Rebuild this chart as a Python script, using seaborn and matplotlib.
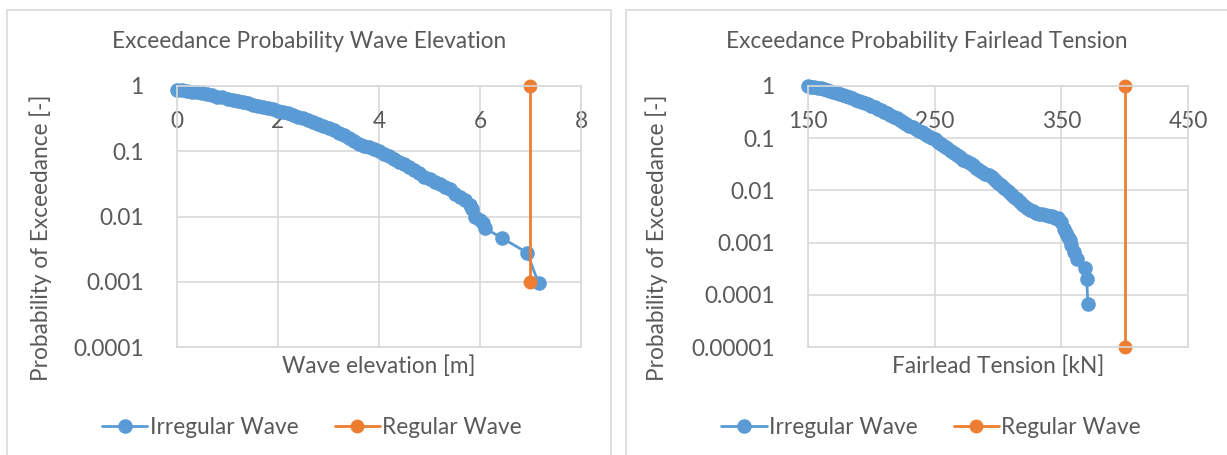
import matplotlib.pyplot as plt
import matplotlib.patches as mpatches
import pandas as pd
import seaborn as sns

# Dados (probabilidade de excedência)
wave_x = [0.0, 0.1, 0.2, 0.3, 0.4, 0.5, 0.6, 0.7, 0.8, 0.9, 1.0, 1.1, 1.2, 1.3,
          1.4, 1.5, 1.6, 1.7, 1.8, 1.9, 2.0, 2.1, 2.2, 2.3, 2.4, 2.5, 2.6, 2.7,
          2.8, 2.9, 3.0, 3.1, 3.2, 3.3, 3.4, 3.5, 3.6, 3.7, 3.8, 3.9, 4.0, 4.1,
          4.2, 4.3, 4.4, 4.5, 4.6, 4.7, 4.8, 4.9, 5.0, 5.1, 5.2, 5.3, 5.4, 5.5,
          5.6, 5.7, 5.8, 5.85, 5.9, 6.0, 6.05, 6.1, 6.43, 6.93, 7.16]
wave_p = [0.87, 0.86, 0.84, 0.82, 0.80, 0.78, 0.75, 0.72, 0.69, 0.67, 0.64,
          0.61, 0.59, 0.56, 0.54, 0.52, 0.50, 0.48, 0.46, 0.44, 0.42, 0.40,
          0.38, 0.36, 0.34, 0.32, 0.30, 0.28, 0.26, 0.245, 0.23, 0.21, 0.19,
          0.175, 0.16, 0.145, 0.13, 0.122, 0.115, 0.107, 0.10, 0.092, 0.085,
          0.076, 0.068, 0.063, 0.058, 0.052, 0.046, 0.041, 0.037, 0.034,
          0.031, 0.028, 0.026, 0.022, 0.020, 0.018, 0.015, 0.013, 0.010,
          0.0088, 0.0080, 0.0066, 0.0047, 0.0028, 0.00095]
reg_wave_x = [6.99, 6.99]
reg_wave_p = [1.0, 0.001]

tension_x = [150, 152.5, 155, 157.5, 160, 162.5, 165, 167.5, 170, 172.5, 175,
             177.5, 180, 182.5, 185, 187.5, 190, 192.5, 195, 197.5, 200, 202.5,
             205, 207.5, 210, 212.5, 215, 217.5, 220, 222.5, 225, 227.5, 230,
             232.5, 235, 237.5, 240, 242.5, 245, 247.5, 250, 252.5, 255, 257.5,
             260, 262.5, 265, 267.5, 270, 272.5, 275, 277.5, 280, 282.5, 285,
             287.5, 290, 292.5, 295, 297.5, 300, 302.5, 305, 307.5, 310, 312.5,
             315, 317.5, 320, 322.5, 325, 327.5, 330, 332.5, 335, 337.5, 340,
             342.5, 345, 347.5, 350, 352, 353.5, 355, 356.5, 358, 360, 362,
             369, 370, 371]
tension_p = [0.98, 0.97, 0.95, 0.93, 0.90, 0.87, 0.84, 0.81, 0.78, 0.745, 0.71,
             0.675, 0.64, 0.61, 0.58, 0.55, 0.52, 0.495, 0.47, 0.445, 0.42,
             0.395, 0.37, 0.345, 0.32, 0.30, 0.28, 0.26, 0.24, 0.222, 0.205,
             0.19, 0.175, 0.162, 0.15, 0.14, 0.13, 0.12, 0.11, 0.102, 0.095,
             0.086, 0.078, 0.071, 0.064, 0.058, 0.052, 0.047, 0.043, 0.039,
             0.036, 0.033, 0.030, 0.027, 0.025, 0.023, 0.021, 0.0195, 0.018,
             0.016, 0.014, 0.0125, 0.011, 0.0097, 0.0085, 0.0076, 0.0068,
             0.0060, 0.0052, 0.0047, 0.0043, 0.0040, 0.0037, 0.0036, 0.0035,
             0.0034, 0.0033, 0.0032, 0.0030, 0.0029, 0.0025, 0.0018, 0.0015,
             0.0013, 0.0011, 0.0009, 0.00065, 0.00048, 0.00033, 0.00020,
             0.000066]
reg_tension_x = [400, 400]
reg_tension_p = [1.0, 0.00001]

BLUE = "#5B9BD5"
ORANGE = "#ED7D31"
GREY = "#595959"
GRID = "#D9D9D9"

sns.set_theme(style="white")
plt.rcParams["font.family"] = ["Lato", "DejaVu Sans"]
plt.rcParams["text.color"] = GREY
plt.rcParams["axes.labelcolor"] = GREY
plt.rcParams["xtick.color"] = GREY
plt.rcParams["ytick.color"] = GREY

W, H = 1227, 455
fig = plt.figure(figsize=(W / 100, H / 100), dpi=100)

# Molduras dos dois gráficos
for x0, x1 in [(7, 611), (626, 1240)]:
    fig.patches.append(mpatches.Rectangle(
        (x0 / W, -0.1), (x1 - x0) / W, 1.1 - 10 / H,
        transform=fig.transFigure, fill=False, edgecolor=GRID, lw=1.2))

FS = 16.3
ylabel_txt = "Probability of Exceedance [-]"


def painel(rect, dados, regular, xlim, xticks, ylim, yticks, ylabels,
           titulo, title_x, xlabel, ylab_x, leg_x):
    ax = fig.add_axes([rect[0] / W, 1 - rect[3] / H,
                       (rect[2] - rect[0]) / W, (rect[3] - rect[1]) / H])
    ax.set_yscale("log")
    sns.lineplot(data=dados, x="x", y="p", ax=ax, sort=False, estimator=None,
                 color=BLUE, marker="o", markersize=10.5, markeredgewidth=0,
                 linewidth=2, label="Irregular Wave", clip_on=False)
    sns.lineplot(data=regular, x="x", y="p", ax=ax, sort=False, estimator=None,
                 color=ORANGE, marker="o", markersize=10, markeredgewidth=0,
                 linewidth=2, label="Regular Wave", clip_on=False)
    ax.set_xlim(*xlim)
    ax.set_ylim(*ylim)
    ax.set_xticks(xticks)
    ax.set_xticklabels([str(t) for t in xticks])
    ax.set_yticks(yticks)
    ax.set_yticklabels(ylabels)
    ax.minorticks_off()
    ax.grid(True, color=GRID, lw=1.2)
    ax.set_axisbelow(True)
    for s in ax.spines.values():
        s.set_color(GRID)
        s.set_linewidth(1.2)
    ax.tick_params(axis="x", bottom=False, top=False, labelbottom=False,
                   labeltop=True, labelsize=FS, pad=-39)
    ax.tick_params(axis="y", left=False, labelsize=FS, pad=18)
    ax.set_xlabel(xlabel, fontsize=FS, labelpad=6)
    ax.xaxis.set_label_position("bottom")
    ax.set_ylabel(ylabel_txt, fontsize=FS)
    ax.yaxis.set_label_coords(ylab_x, 0.42)
    fig.text(title_x / W, 1 - 42 / H, titulo, ha="center", va="center",
             fontsize=FS)
    ax.legend(loc="center", bbox_to_anchor=(leg_x, -0.31), ncol=2,
              frameon=False, fontsize=FS, handlelength=2.0,
              handletextpad=0.1, columnspacing=1.6)
    return ax


painel((177, 86, 581, 347),
       pd.DataFrame({"x": wave_x, "p": wave_p}),
       pd.DataFrame({"x": reg_wave_x, "p": reg_wave_p}),
       (0, 8), [0, 2, 4, 6, 8], (0.0001, 1),
       [0.0001, 0.001, 0.01, 0.1, 1], ["0.0001", "0.001", "0.01", "0.1", "1"],
       "Exceedance Probability Wave Elevation", 309, "Wave elevation [m]",
       -0.31, 0.334)

painel((808, 86, 1188, 347),
       pd.DataFrame({"x": tension_x, "p": tension_p}),
       pd.DataFrame({"x": reg_tension_x, "p": reg_tension_p}),
       (150, 450), [150, 250, 350, 450], (0.00001, 1),
       [0.00001, 0.0001, 0.001, 0.01, 0.1, 1],
       ["0.00001", "0.0001", "0.001", "0.01", "0.1", "1"],
       "Exceedance Probability Fairlead Tension", 927, "Fairlead Tension [kN]",
       -0.368, 0.324)

fig.savefig("out.png", dpi=100, facecolor="white")
